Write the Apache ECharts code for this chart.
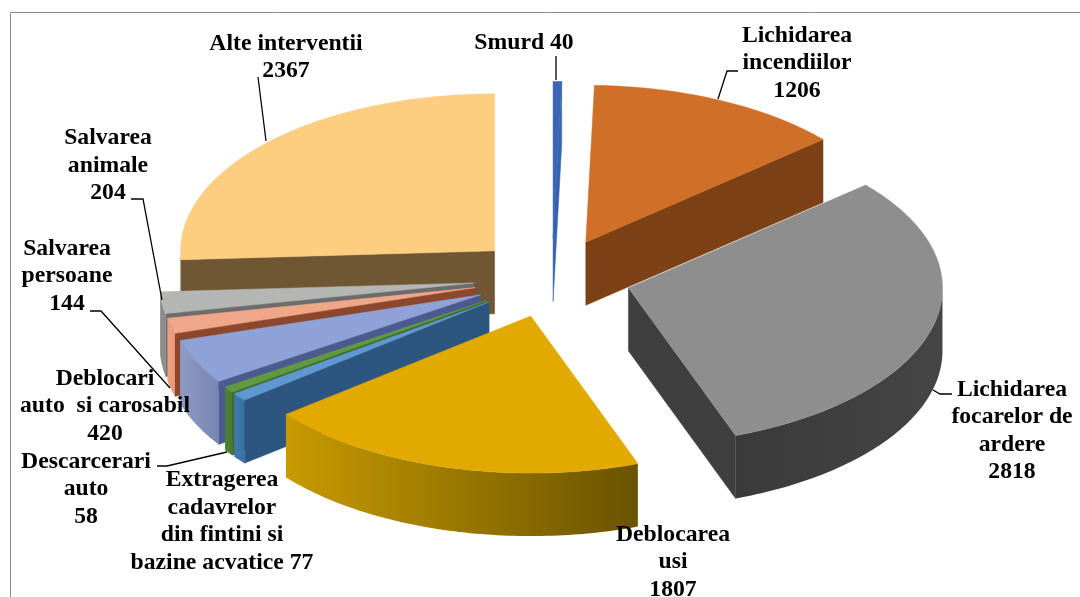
<!DOCTYPE html>
<html lang="ro">
<head>
    <meta charset="UTF-8">
    <title>Interventii</title>
    <style>
        html, body { margin: 0; padding: 0; background: #fff; }
        #pie { width: 1080px; height: 597px; }
    </style>
</head>
<body>
<div id="pie"></div>
<script src="https://cdn.jsdelivr.net/npm/echarts@6/dist/echarts.min.js"></script>
<script>
// data, clockwise from 12 o'clock
var names = ['Smurd', 'Lichidarea\nincendiilor', 'Lichidarea\nfocarelor de\nardere', 'Deblocarea\nusi',
    'Extragerea\ncadavrelor\ndin fintini si\nbazine acvatice', 'Descarcerari\nauto', 'Deblocari\nauto  si carosabil',
    'Salvarea\npersoane', 'Salvarea\nanimale', 'Alte interventii'];
var values = [40, 1206, 2818, 1807, 77, 58, 420, 144, 204, 2367];
var valueSep = [' ', '\n', '\n', '\n', ' ', '\n', '\n', '\n', '\n', '\n'];

// colours per slice
var topColors = ['#3a66b4', '#d06f27', '#8e8e8e', '#e2a900', '#5f97d3', '#5f9a40', '#8ea2d8', '#f0a688', '#b4b6b4', '#fdcd80'];
var faceColors = ['#3563ad', '#7c4115', '#3f3f3f', '#7a5f00', '#2c567f', '#3d6a28', '#4b5b92', '#8c472c', '#6c6c6c', '#6f5733'];
var arcLeft = ['#3a66b4', '#7c4115', '#454545', '#c89a00', '#3f7ab0', '#4f8235', '#8f9bc4', '#ee9f80', '#8c8c8c', '#6f5733'];
var arcRight = ['#3a66b4', '#7c4115', '#3a3a3a', '#6a5300', '#3a70a4', '#4a7a32', '#7785b5', '#e69878', '#8c8c8c', '#6f5733'];

// back to front
var drawOrder = [9, 0, 1, 8, 7, 6, 5, 4, 2, 3];

// 3d pie geometry
var cx = 552, cy = 278, rx = 314, ry = 157, depth = 63, explode = 79;

// label centres, one per slice
var labelX = [524, 797, 1012, 673, 222, 86, 105, 67, 108, 286];
var labelY = [42.5, 63, 431, 562, 521.5, 489, 406, 276, 165.5, 57.5];

// leader lines
var leaders = [
    [[556, 56], [556, 80]],
    [[738, 71], [727, 71], [718, 99]],
    [[952, 394], [940, 394], [933, 390]],
    [[157, 466], [167, 466], [227, 452]],
    [[90, 311], [101, 311], [170, 388]],
    [[131, 199], [143, 199], [162, 300]],
    [[258, 77], [266, 141]]
];

var total = values.reduce(function (a, b) { return a + b; }, 0);

function rad(d) { return d * Math.PI / 180; }

function renderSlice(params, api) {
    var idx = api.value(0);
    var start = 0;
    for (var i = 0; i < idx; i++) start += values[i];
    var a = start / total * 360;
    var b = (start + api.value(1)) / total * 360;
    var mid = rad((a + b) / 2);
    var ox = cx + explode * Math.sin(mid);
    var oy = cy - explode * Math.cos(mid) * ry / rx;

    function pt(deg, h) {
        return [ox + rx * Math.sin(rad(deg)), oy - ry * Math.cos(rad(deg)) + (h || 0)];
    }
    function face(deg) {
        return {
            type: 'polygon',
            shape: { points: [[ox, oy], pt(deg), pt(deg, depth), [ox, oy + depth]] },
            style: { fill: faceColors[idx], stroke: faceColors[idx], lineWidth: 0.5 }
        };
    }

    var children = [];
    // radial walls, only the ones facing the viewer
    if (Math.sin(rad(a)) < 0) children.push(face(a));
    if (Math.sin(rad(b)) > 0.001) children.push(face(b));

    // outer wall between 90 and 270 degrees
    var from = Math.max(a, 90), to = Math.min(b, 270);
    if (to > from) {
        var upper = [], lower = [];
        for (var d = from; d < to; d += 1) {
            upper.push(pt(d));
            lower.unshift(pt(d, depth));
        }
        upper.push(pt(to));
        lower.unshift(pt(to, depth));
        children.push({
            type: 'polygon',
            shape: { points: upper.concat(lower) },
            style: {
                fill: new echarts.graphic.LinearGradient(0, 0, 1, 0, [
                    { offset: 0, color: from < 180 && to < 180 ? arcRight[idx] : arcLeft[idx] },
                    { offset: 1, color: from < 180 && to < 180 ? arcLeft[idx] : arcRight[idx] }
                ]),
                stroke: null
            }
        });
    }

    // top
    var top = [[ox, oy]];
    for (var t = a; t < b; t += 1) top.push(pt(t));
    top.push(pt(b));
    children.push({
        type: 'polygon',
        shape: { points: top },
        style: { fill: topColors[idx], stroke: topColors[idx], lineWidth: 0.5 }
    });

    return { type: 'group', children: children };
}

var graphics = [{
    type: 'rect',
    z: 1,
    silent: true,
    shape: { x: 10.5, y: 12.5, width: 1200, height: 800 },
    style: { fill: null, stroke: '#8a8a8a', lineWidth: 1 }
}];
leaders.forEach(function (l) {
    graphics.push({
        type: 'polyline',
        z: 10,
        silent: true,
        shape: { points: l },
        style: { fill: null, stroke: '#000', lineWidth: 1.3 }
    });
});
names.forEach(function (n, i) {
    graphics.push({
        type: 'text',
        z: 11,
        silent: true,
        x: labelX[i],
        y: labelY[i],
        style: {
            text: n + valueSep[i] + values[i],
            align: 'center',
            verticalAlign: 'middle',
            fontFamily: '"Liberation Serif"',
            fontWeight: 'bold',
            fontSize: 23.7,
            lineHeight: 27.5,
            fill: '#000'
        }
    });
});

var myChart = echarts.init(document.getElementById('pie'));
myChart.setOption({
    backgroundColor: '#fff',
    animation: false,
    graphic: graphics,
    series: [{
        type: 'custom',
        coordinateSystem: 'none',
        silent: true,
        renderItem: renderSlice,
        data: drawOrder.map(function (i) { return [i, values[i]]; })
    }]
});
</script>
</body>
</html>
